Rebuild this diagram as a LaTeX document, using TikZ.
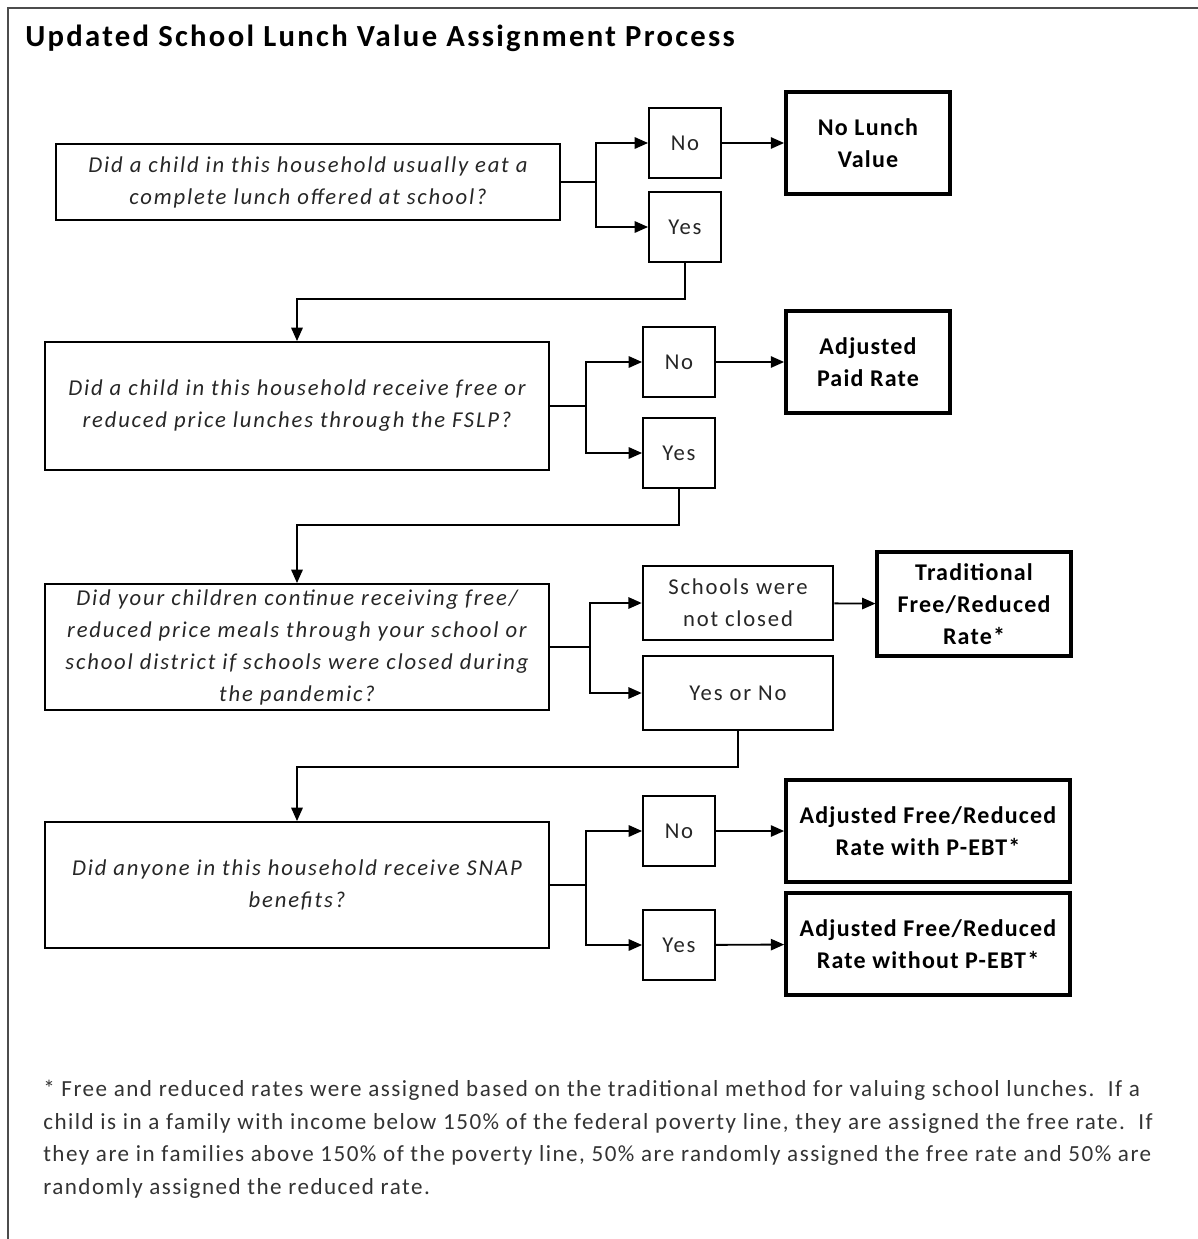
\documentclass[tikz,border=0pt]{standalone}
\usepackage{fontspec}
\setmainfont{Carlito}
\usepackage{tikz}
\usetikzlibrary{arrows.meta}
\tikzset{
   question/.style={rectangle, draw, line width=1.4pt, align=center, text=black!85,
                    font=\fontsize{17}{24}\selectfont\itshape\addfontfeature{LetterSpace=8},
                    minimum width=378pt, inner sep=0pt},
   answer/.style={rectangle, draw, line width=1.4pt, align=center, text=black!85,
                  font=\fontsize{17}{24}\selectfont\addfontfeature{LetterSpace=8},
                  minimum width=54pt, minimum height=53pt, inner sep=0pt},
   outcome/.style={rectangle, draw, line width=2.8pt, align=center,
                   font=\fontsize{18}{24}\selectfont\bfseries\addfontfeature{LetterSpace=5},
                   minimum height=76.5pt, inner sep=0pt},
   arr/.style={line width=1.4pt, -{Triangle[length=10pt,width=8.5pt]}},
   link/.style={line width=1.4pt}
}
\begin{document}
\begin{tikzpicture}[x=0.75pt, y=-0.75pt]
\useasboundingbox (0,0) rectangle (1198,1239);
\draw[line width=1.5pt, black!70] (8,1239) -- (8,8) -- (1198,8);
\node[anchor=west, inner sep=0pt, font=\fontsize{23}{24}\selectfont\bfseries\addfontfeature{LetterSpace=7.5}] (title) at (25,38) {Updated School Lunch Value Assignment Process};

% first question
\node[question, minimum height=57pt] (q1) at (308,182) {Did a child in this household usually eat a\\complete lunch offered at school?};
\node[answer] (no1) at (685,143) {No};
\node[answer] (yes1) at (685,227) {Yes};
\node[outcome, minimum width=123pt] (nolunch) at (868,143) {No Lunch\\Value};

% second question
\node[question, minimum height=96pt] (q2) at (297,406) {Did a child in this household receive free or\\reduced price lunches through the FSLP?};
\node[answer] (no2) at (679,362) {No};
\node[answer] (yes2) at (679,453) {Yes};
\node[outcome, minimum width=123pt] (paid) at (868,362) {Adjusted\\Paid Rate};

% third question
\node[question, minimum height=94.5pt] (q3) at (297,647) {Did your children continue receiving free/\\reduced price meals through your school or\\school district if schools were closed during\\the pandemic?};
\node[answer, minimum width=143pt, minimum height=55pt] (open) at (738,603) {Schools were\\not closed};
\node[answer, minimum width=143pt, minimum height=55pt] (either) at (738,693) {Yes or No};
\node[outcome, minimum width=145pt, minimum height=78pt] (trad) at (974,604) {Traditional\\Free/Reduced\\Rate*};

% fourth question
\node[question, minimum height=94.5pt] (q4) at (297,885) {Did anyone in this household receive SNAP\\benefits?};
\node[answer] (no4) at (679,831) {No};
\node[answer] (yes4) at (679,945) {Yes};
\node[outcome, minimum width=213pt] (withebt) at (928,831) {Adjusted Free/Reduced\\Rate with P-EBT*};
\node[outcome, minimum width=213pt] (woebt) at (928,944) {Adjusted Free/Reduced\\Rate without P-EBT*};

% branches
\draw[link] (q1.east) -- ++(35,0) coordinate (b1);
\draw[arr] (b1) |- (no1);
\draw[arr] (b1) |- (yes1);
\draw[arr] (no1) -- (nolunch);
\draw[arr] (yes1.south) -- ++(0,36) -| (q2.north);

\draw[link] (q2.east) -- ++(36,0) coordinate (b2);
\draw[arr] (b2) |- (no2);
\draw[arr] (b2) |- (yes2);
\draw[arr] (no2) -- (paid);
\draw[arr] (yes2.south) -- ++(0,36) -| (q3.north);

\draw[link] (q3.east) -- ++(40,0) coordinate (b3);
\draw[arr] (b3) |- (open);
\draw[arr] (b3) |- (either);
\draw[arr] (open) -- (trad);
\draw[arr] (either.south) -- ++(0,36) -| (q4.north);

\draw[link] (q4.east) -- ++(36,0) coordinate (b4);
\draw[arr] (b4) |- (no4);
\draw[arr] (b4) |- (yes4);
\draw[arr] (no4) -- (withebt);
\draw[arr] (yes4) -- (woebt);

% footnote
\node[anchor=north west, align=left, inner sep=0pt, text=black!80,
      font=\fontsize{17.3}{24.5}\selectfont\addfontfeature{LetterSpace=6.4}] (note) at (43,1080)
  {* Free and reduced rates were assigned based on the traditional method for valuing school lunches.\ \ If a\\
   child is in a family with income below 150\% of the federal poverty line, they are assigned the free rate.\ \ If\\
   they are in families above 150\% of the poverty line, 50\% are randomly assigned the free rate and 50\% are\\
   randomly assigned the reduced rate.};
\end{tikzpicture}
\end{document}
